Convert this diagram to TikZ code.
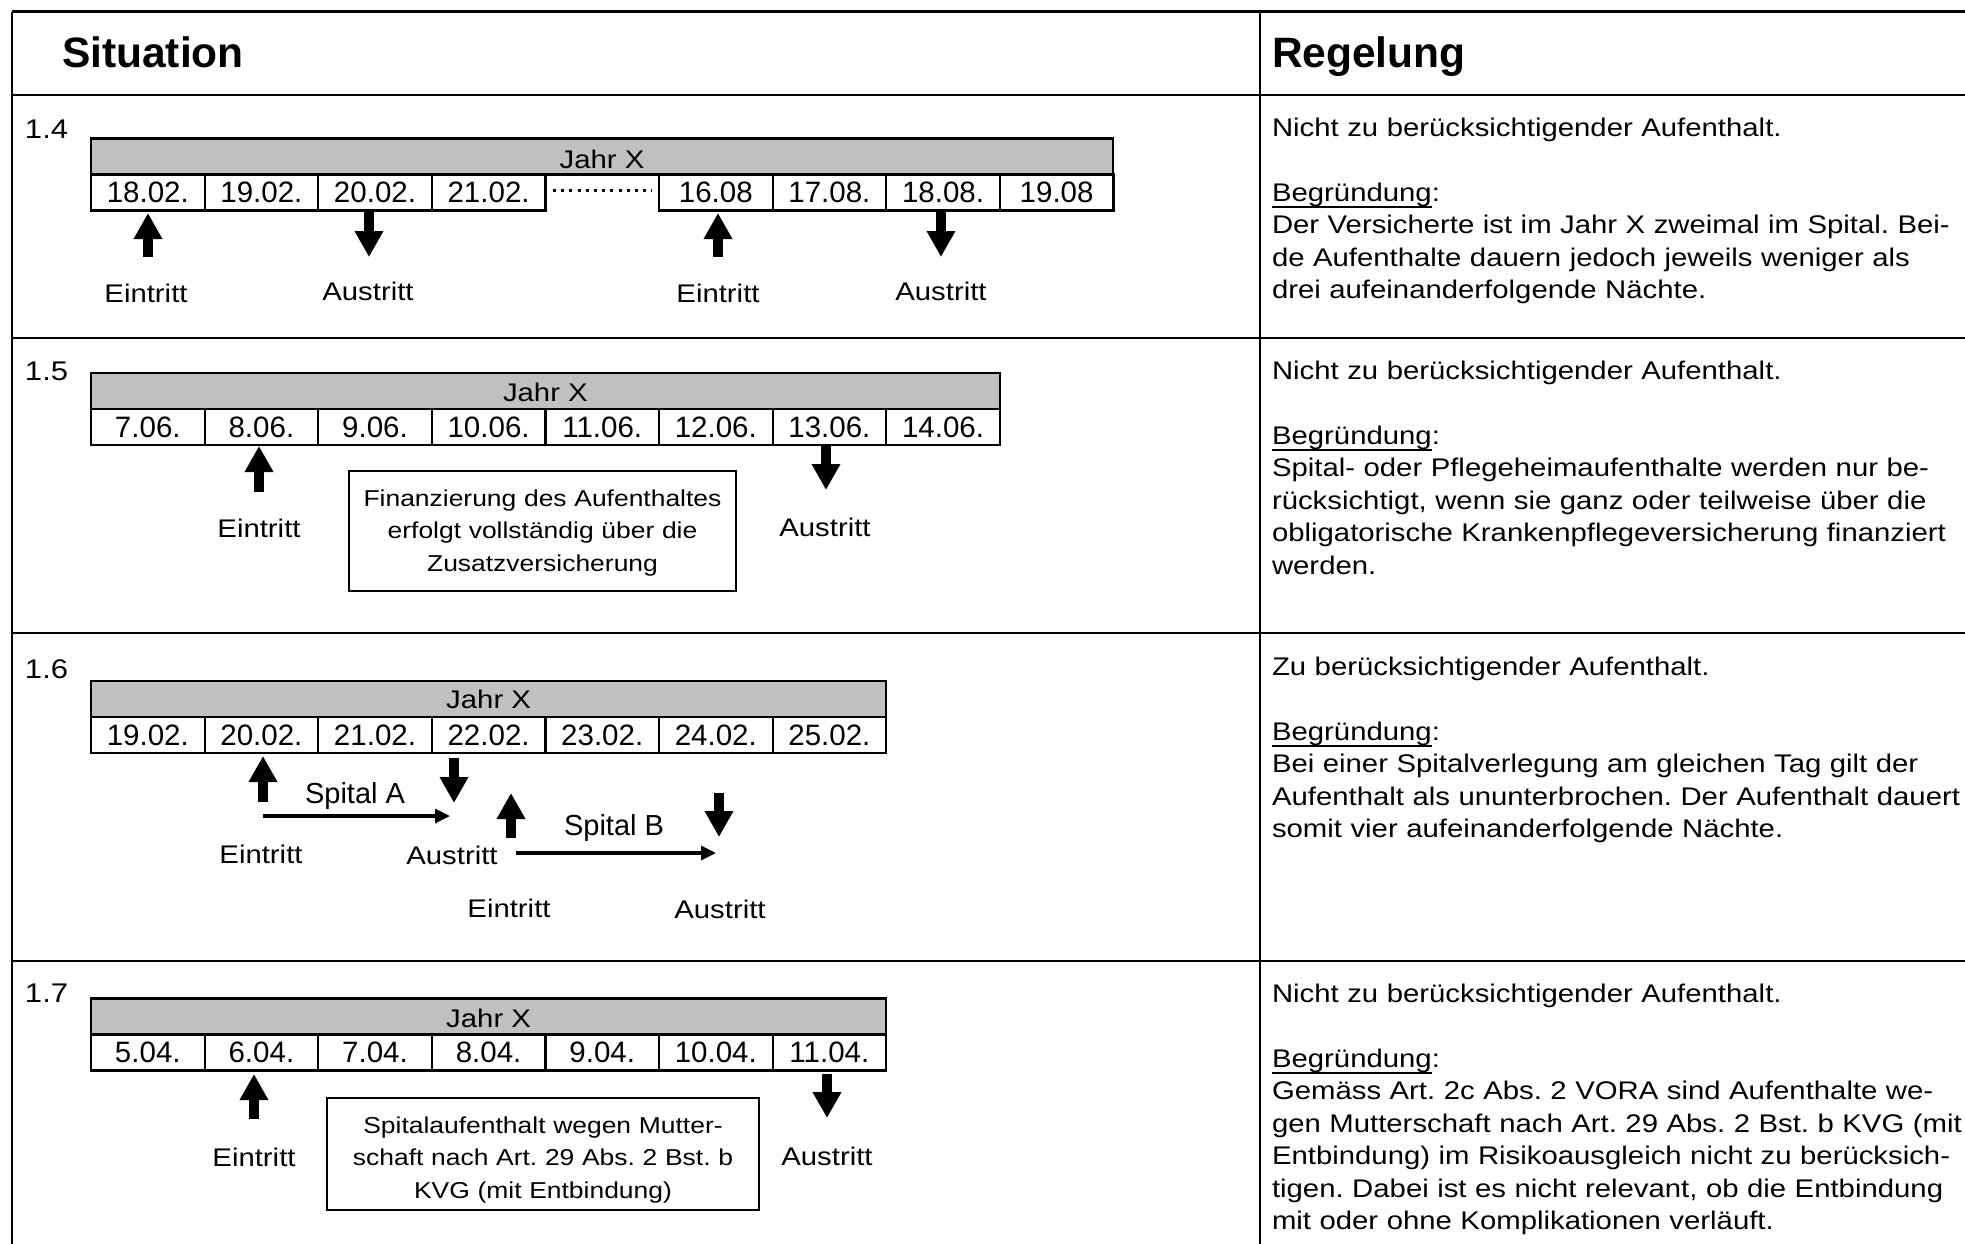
\documentclass[tikz,border=0pt]{standalone}
\usepackage{fontspec}
\setmainfont{Liberation Sans}
\newfontfamily\mystretchfam[FakeStretch=1.15]{Liberation Sans}
\usetikzlibrary{arrows.meta}
\definecolor{barfill}{RGB}{192,192,192}
\frenchspacing
\newcommand\myhdrfont{\fontsize{21.25pt}{25pt}\selectfont\bfseries}
\newcommand\mybodyfont{\fontsize{12.75pt}{16.25pt}\mystretchfam\frenchspacing}
\newcommand\myrowfont{\fontsize{13.5pt}{16.25pt}\mystretchfam}
\newcommand\myboxfont{\fontsize{11.5pt}{16.25pt}\mystretchfam\frenchspacing}
\newcommand\mydatefont{\fontsize{14.75pt}{17pt}\selectfont}
\newcommand\myspitalfont{\fontsize{14.5pt}{17pt}\selectfont}
\newcommand\ulword[1]{\leavevmode\setbox0\hbox{#1}\rlap{\rule[-3.6pt]{\wd0}{1.1pt}}\box0}
\tikzset{
  tbl/.style={line width=1.35pt},
  cell/.style={draw, line width=1.1pt, minimum width=56.8pt, minimum height=18pt, font=\mydatefont},
  bar/.style={draw, fill=barfill, line width=1.2pt, minimum height=18pt},
  bigarrow/.style={line width=4.65pt, -{Triangle[width=13.5pt,length=13pt]}},
  thinarrow/.style={line width=1.65pt, -{Triangle[width=7pt,length=7.5pt]}},
  lbl/.style={font=\mybodyfont, anchor=base},
  rowno/.style={font=\myrowfont, anchor=base west},
  hdr/.style={font=\myhdrfont, anchor=base west},
  body/.style={font=\mybodyfont, anchor=base west, align=left, text width=400pt},
  infobox/.style={draw, line width=0.8pt},
  boxtext/.style={font=\myboxfont, anchor=base, align=center, text width=230pt},
  spital/.style={font=\myspitalfont, anchor=base},
  dotline/.style={line width=1.5pt, dash pattern=on 1.5pt off 2.6pt}
}
\begin{document}
\begin{tikzpicture}[x=0.5pt, y=-0.5pt, every node/.append style={inner sep=0pt, outer sep=0pt}]
\useasboundingbox (0,0) rectangle (1965,1243);
\fill[white] (0,0) rectangle (1965,1243);

% table grid
\draw[tbl] (12,11.7) -- (1990,11.7);
\draw[tbl] (12,95) -- (1990,95);
\draw[tbl] (12,338) -- (1990,338);
\draw[tbl] (12,633) -- (1990,633);
\draw[tbl] (12,961) -- (1990,961);
\draw[tbl] (12,11.7) -- (12,1260);
\draw[tbl] (1260,11.7) -- (1260,1260);

% headers
\node[hdr] (hsit) at (62,67) {Situation};
\node[hdr] (hreg) at (1272,67) {Regelung};

% ---------------- row 1.4
\node[rowno] (n14) at (25,138) {1.4};
\node[bar, minimum width=511pt] (bar14) at (602,156.5) {};
\node[lbl] (j14) at (602,168) {Jahr X};
\foreach \d [count=\i from 0] in {18.02.,19.02.,20.02.,21.02.}
  \node[cell] (c14-\i) at ({91+113.6*(\i+0.5)},192.5) {\d};
\foreach \d [count=\i from 5] in {16.08,17.08.,18.08.,19.08}
  \node[cell] (c14-\i) at ({91+113.6*(\i+0.5)},192.5) {\d};
\coordinate (dl1) at (553,190);
\coordinate (dl2) at (652,190);
\draw[dotline] (dl1) -- (dl2);
\coordinate (a14a) at (148,257); \coordinate (a14b) at (148,213);
\coordinate (a14c) at (369,212); \coordinate (a14d) at (369,257);
\coordinate (a14e) at (718,257); \coordinate (a14f) at (718,213);
\coordinate (a14g) at (941,212); \coordinate (a14h) at (941,257);
\draw[bigarrow] (a14a) -- (a14b);
\draw[bigarrow] (a14c) -- (a14d);
\draw[bigarrow] (a14e) -- (a14f);
\draw[bigarrow] (a14g) -- (a14h);
\node[lbl] (e14a) at (146,302) {Eintritt};
\node[lbl] (x14a) at (368,300) {Austritt};
\node[lbl] (e14b) at (718,302) {Eintritt};
\node[lbl] (x14b) at (941,300) {Austritt};

% ---------------- row 1.5
\node[rowno] (n15) at (25,380) {1.5};
\node[bar, minimum width=454.4pt] (bar15) at (545.4,391) {};
\node[lbl] (j15) at (545.4,401) {Jahr X};
\foreach \d [count=\i from 0] in {7.06.,8.06.,9.06.,10.06.,11.06.,12.06.,13.06.,14.06.}
  \node[cell] (c15-\i) at ({91+113.6*(\i+0.5)},427) {\d};
\coordinate (a15a) at (259,492); \coordinate (a15b) at (259,446);
\coordinate (a15c) at (826,446); \coordinate (a15d) at (826,490);
\draw[bigarrow] (a15a) -- (a15b);
\draw[bigarrow] (a15c) -- (a15d);
\node[lbl] (e15) at (259,537) {Eintritt};
\node[lbl] (x15) at (825,536) {Austritt};
\node[infobox, minimum width=193.5pt, minimum height=60pt] (box15) at (542.5,531) {};
\node[boxtext] (bt15) at (542.5,506) {Finanzierung des Aufenthaltes\\erfolgt vollständig über die\\Zusatzversicherung};

% ---------------- row 1.6
\node[rowno] (n16) at (25,678) {1.6};
\node[bar, minimum width=397.6pt] (bar16) at (488.6,699) {};
\node[lbl] (j16) at (488.6,708) {Jahr X};
\foreach \d [count=\i from 0] in {19.02.,20.02.,21.02.,22.02.,23.02.,24.02.,25.02.}
  \node[cell] (c16-\i) at ({91+113.6*(\i+0.5)},735) {\d};
\coordinate (a16a) at (263,802); \coordinate (a16b) at (263,756);
\coordinate (a16c) at (454,758); \coordinate (a16d) at (454,803);
\coordinate (a16e) at (511,838); \coordinate (a16f) at (511,793);
\coordinate (a16g) at (719,793); \coordinate (a16h) at (719,837);
\draw[bigarrow] (a16a) -- (a16b);
\draw[bigarrow] (a16c) -- (a16d);
\draw[bigarrow] (a16e) -- (a16f);
\draw[bigarrow] (a16g) -- (a16h);
\coordinate (h16a) at (263,816); \coordinate (h16b) at (450,816);
\coordinate (h16c) at (516,853); \coordinate (h16d) at (716,853);
\draw[thinarrow] (h16a) -- (h16b);
\draw[thinarrow] (h16c) -- (h16d);
\node[spital] (spa) at (355,803) {Spital A};
\node[spital] (spb) at (614,835) {Spital B};
\node[lbl] (e16a) at (261,863) {Eintritt};
\node[lbl] (x16a) at (452,864) {Austritt};
\node[lbl] (e16b) at (509,917) {Eintritt};
\node[lbl] (x16b) at (720,918) {Austritt};

% ---------------- row 1.7
\node[rowno] (n17) at (25,1002) {1.7};
\node[bar, minimum width=397.6pt] (bar17) at (488.6,1016.5) {};
\node[lbl] (j17) at (488.6,1027) {Jahr X};
\foreach \d [count=\i from 0] in {5.04.,6.04.,7.04.,8.04.,9.04.,10.04.,11.04.}
  \node[cell] (c17-\i) at ({91+113.6*(\i+0.5)},1052.5) {\d};
\coordinate (a17a) at (254,1119); \coordinate (a17b) at (254,1074);
\coordinate (a17c) at (827,1074); \coordinate (a17d) at (827,1118);
\draw[bigarrow] (a17a) -- (a17b);
\draw[bigarrow] (a17c) -- (a17d);
\node[lbl] (e17) at (254,1166) {Eintritt};
\node[lbl] (x17) at (827,1165) {Austritt};
\node[infobox, minimum width=216pt, minimum height=56pt] (box17) at (543,1154) {};
\node[boxtext] (bt17) at (543,1133) {Spitalaufenthalt wegen Mutter-\\schaft nach Art. 29 Abs. 2 Bst. b\\KVG (mit Entbindung)};

% ---------------- right column
\node[body] (t14) at (1272,136) {Nicht zu berücksichtigender Aufenthalt.\\[16.25pt]\ulword{Begründung}:\\Der Versicherte ist im Jahr X zweimal im Spital. Bei-\\de Aufenthalte dauern jedoch jeweils weniger als\\drei aufeinanderfolgende Nächte.};
\node[body] (t15) at (1272,379) {Nicht zu berücksichtigender Aufenthalt.\\[16.25pt]\ulword{Begründung}:\\Spital- oder Pflegeheimaufenthalte werden nur be-\\rücksichtigt, wenn sie ganz oder teilweise über die\\obligatorische Krankenpflegeversicherung finanziert\\werden.};
\node[body] (t16) at (1272,675) {Zu berücksichtigender Aufenthalt.\\[16.25pt]\ulword{Begründung}:\\Bei einer Spitalverlegung am gleichen Tag gilt der\\Aufenthalt als ununterbrochen. Der Aufenthalt dauert\\somit vier aufeinanderfolgende Nächte.};
\node[body] (t17) at (1272,1002) {Nicht zu berücksichtigender Aufenthalt.\\[16.25pt]\ulword{Begründung}:\\Gemäss Art. 2c Abs. 2 VORA sind Aufenthalte we-\\gen Mutterschaft nach Art. 29 Abs. 2 Bst. b KVG (mit\\Entbindung) im Risikoausgleich nicht zu berücksich-\\tigen. Dabei ist es nicht relevant, ob die Entbindung\\mit oder ohne Komplikationen verläuft.};
\end{tikzpicture}
\end{document}
